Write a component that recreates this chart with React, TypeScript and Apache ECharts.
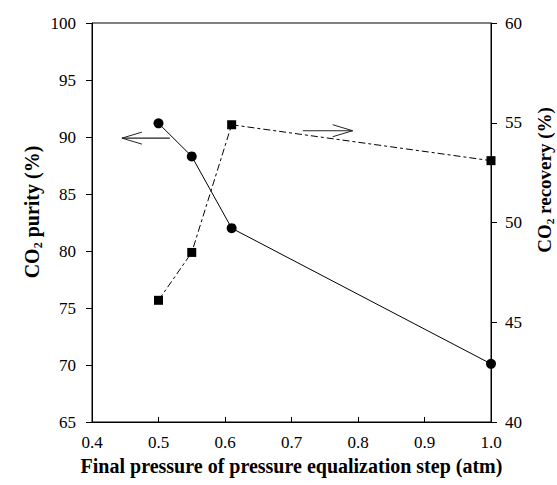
import React, { useEffect, useRef } from "react";
import * as echarts from "echarts";

// Final pressure of the pressure equalization step (atm)
const pressure = [0.5, 0.55, 0.61, 1.0];
// CO2 purity (%), left axis
const purity = [91.2, 88.3, 82.0, 70.1];
// CO2 recovery (%), right axis
const recovery = [46.1, 48.5, 54.9, 53.1];

const xTicks = { min: 0.4, max: 1.0, interval: 0.1 };
const purityTicks = { min: 65, max: 100, interval: 5 };
const recoveryTicks = { min: 40, max: 60, interval: 5 };

// Pointer arrows telling which axis each curve belongs to: [tailX, tailY, tipX, tipY]
const purityArrow = [[0.517, 89.9, 0.445, 89.9]];
const recoveryArrow = [[0.717, 54.6, 0.792, 54.6]];

const FONT = "'Liberation Serif', 'Times New Roman', serif";

const arrowRenderer = (params: any, api: any) => {
  const t = api.coord([api.value(0), api.value(1)]);
  const h = api.coord([api.value(2), api.value(3)]);
  const dir = h[0] >= t[0] ? 1 : -1;
  return {
    type: "group",
    children: [
      {
        type: "line",
        shape: { x1: t[0], y1: t[1], x2: h[0], y2: h[1] },
        style: { stroke: "#222", lineWidth: 1.2 },
      },
      {
        type: "polyline",
        shape: {
          points: [
            [h[0] - dir * 20, h[1] - 6],
            [h[0], h[1]],
            [h[0] - dir * 20, h[1] + 6],
          ],
        },
        style: { stroke: "#222", lineWidth: 1, fill: "none" },
      },
    ],
  };
};

export default function App() {
  const ref = useRef<HTMLDivElement>(null);

  useEffect(() => {
    if (!ref.current) return;
    const chart = echarts.init(ref.current, null, { renderer: "svg" });

    const axisLabel = { color: "#000", fontFamily: FONT, fontSize: 17 };
    const titleRich = (size: number) => ({
      m: { fontFamily: FONT, fontSize: size, fontWeight: "bold", color: "#000", lineHeight: size + 4 },
      s: { fontFamily: FONT, fontSize: size * 0.6, fontWeight: "bold", color: "#000", lineHeight: size * 0.7, verticalAlign: "bottom" },
    });

    chart.setOption({
      animation: false,
      backgroundColor: "#fff",
      grid: {
        left: 92,
        right: 66,
        top: 23,
        bottom: 63,
        show: true,
        borderColor: "#000",
        borderWidth: 1,
        backgroundColor: "transparent",
      },
      xAxis: {
        type: "value",
        ...xTicks,
        name: "Final pressure of pressure equalization step (atm)",
        nameLocation: "middle",
        nameGap: 34,
        nameTextStyle: { fontFamily: FONT, fontSize: 20, fontWeight: "bold", color: "#000" },
        axisLine: { show: true, lineStyle: { color: "#000", width: 1 } },
        axisTick: { show: true, inside: true, length: 5, lineStyle: { color: "#000" } },
        splitLine: { show: false },
        axisLabel: { ...axisLabel, margin: 12, formatter: (v: number) => v.toFixed(1) },
      },
      yAxis: [
        {
          type: "value",
          position: "left",
          ...purityTicks,
          axisLine: { show: true, lineStyle: { color: "#000", width: 1 } },
          axisTick: { show: true, inside: false, length: 6, lineStyle: { color: "#000" } },
          splitLine: { show: false },
          axisLabel: { ...axisLabel, margin: 16 },
        },
        {
          type: "value",
          position: "right",
          ...recoveryTicks,
          axisLine: { show: true, lineStyle: { color: "#000", width: 1 } },
          axisTick: { show: true, inside: false, length: 6, lineStyle: { color: "#000" } },
          splitLine: { show: false },
          axisLabel: { ...axisLabel, margin: 14 },
        },
      ],
      graphic: [
        {
          type: "text",
          x: 32,
          y: 212,
          rotation: Math.PI / 2,
          style: {
            text: "{m|CO}{s|2}{m| purity (%)}",
            rich: titleRich(20),
            align: "center",
            verticalAlign: "middle",
          },
        },
        {
          type: "text",
          x: 544,
          y: 180,
          rotation: Math.PI / 2,
          style: {
            text: "{m|CO}{s|2}{m| recovery (%)}",
            rich: titleRich(19),
            align: "center",
            verticalAlign: "middle",
          },
        },
      ],
      series: [
        {
          name: "CO2 purity",
          type: "line",
          yAxisIndex: 0,
          data: pressure.map((p, i) => [p, purity[i]]),
          symbol: "circle",
          symbolSize: 10,
          itemStyle: { color: "#000" },
          lineStyle: { color: "#000", width: 1 },
        },
        {
          name: "CO2 recovery",
          type: "line",
          yAxisIndex: 1,
          data: pressure.map((p, i) => [p, recovery[i]]),
          symbol: "rect",
          symbolSize: 9,
          itemStyle: { color: "#000" },
          lineStyle: { color: "#000", width: 1, type: [7, 3, 3, 3] },
        },
        {
          type: "custom",
          yAxisIndex: 0,
          data: purityArrow,
          encode: { x: [0, 2], y: [1, 3] },
          renderItem: arrowRenderer,
          silent: true,
        },
        {
          type: "custom",
          yAxisIndex: 1,
          data: recoveryArrow,
          encode: { x: [0, 2], y: [1, 3] },
          renderItem: arrowRenderer,
          silent: true,
        },
      ],
    });

    return () => chart.dispose();
  }, []);

  return (
    <div
      ref={ref}
      style={{ position: "absolute", left: 0, top: 0, width: 557, height: 485 }}
    />
  );
}
